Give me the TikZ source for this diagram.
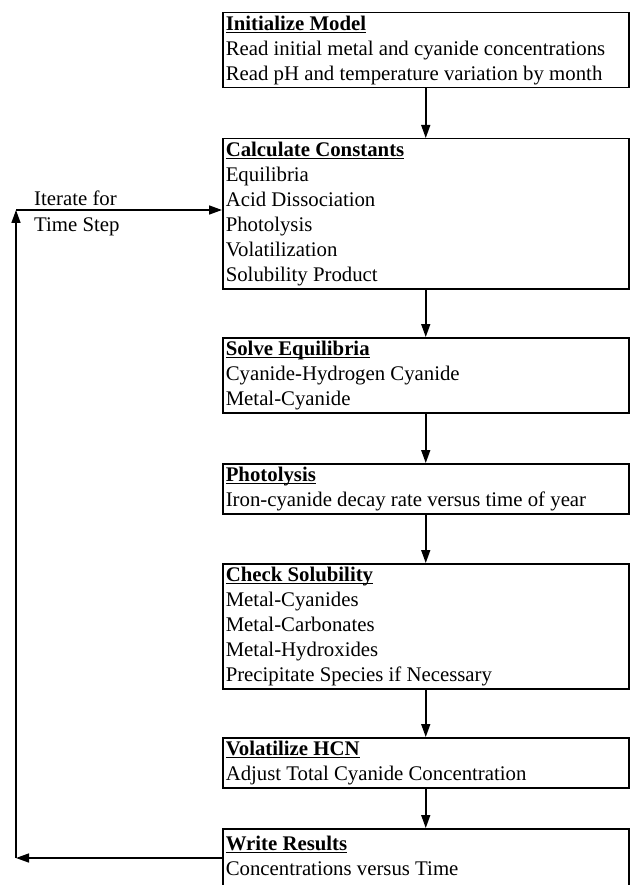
\documentclass[tikz,border=0pt]{standalone}
\usepackage{fontspec}
\setmainfont{Liberation Serif}
\usetikzlibrary{arrows.meta}
\setlength{\parindent}{0pt}
\newlength{\ulw}
\newcommand{\hd}[1]{\settowidth{\ulw}{\textbf{#1}}\textbf{#1}\llap{\rule[-3.2pt]{\ulw}{1.3pt}}}
\newcommand{\tightsp}{\spaceskip=0pt\xspaceskip=0pt\rightskip=0pt plus 1fil\relax}
\tikzset{
  stage/.style={draw, line width=1.5pt, anchor=north west, inner xsep=3pt, inner ysep=0pt,
    text width=400pt, font=\fontsize{20.8}{25}\selectfont},
  lbl/.style={inner sep=0pt, font=\fontsize{20.8}{25}\selectfont},
  arr/.style={line width=1.5pt, -{Triangle[length=13pt,width=9pt]}}
}
\begin{document}
\begin{tikzpicture}[x=1pt,y=-1pt]
\path[fill=white, use as bounding box] (0,0) rectangle (631,885);

\node[stage] (b1) at (222,12) {\tightsp\hd{Initialize Model}\strut\\
Read initial metal and cyanide concentrations\strut\\
Read pH and temperature variation by month\strut};

\node[stage] (b2) at (222,138) {\tightsp\hd{Calculate Constants}\strut\\
Equilibria\strut\\
Acid Dissociation\strut\\
Photolysis\strut\\
Volatilization\strut\\
Solubility Product\strut};

\node[stage] (b3) at (222,337) {\tightsp\hd{Solve Equilibria}\strut\\
Cyanide-Hydrogen Cyanide\strut\\
Metal-Cyanide\strut};

\node[stage] (b4) at (222,463) {\tightsp\hd{Photolysis}\strut\\
Iron-cyanide decay rate versus time of year\strut};

\node[stage] (b5) at (222,563) {\tightsp\hd{Check Solubility}\strut\\
Metal-Cyanides\strut\\
Metal-Carbonates\strut\\
Metal-Hydroxides\strut\\
Precipitate Species if Necessary\strut};

\node[stage] (b6) at (222,737) {\tightsp\hd{Volatilize HCN}\strut\\
Adjust Total Cyanide Concentration\strut};

\node[stage, minimum height=58pt] (b7) at (222,828) {\tightsp\hd{Write Results}\strut\\
Concentrations versus Time\strut};

\draw[arr] (b1.south) -- (b2.north);
\draw[arr] (b2.south) -- (b3.north);
\draw[arr] (b3.south) -- (b4.north);
\draw[arr] (b4.south) -- (b5.north);
\draw[arr] (b5.south) -- (b6.north);
\draw[arr] (b6.south) -- (b7.north);

\coordinate (c1) at (16,858);
\coordinate (c2) at (16,210);
\draw[arr] (b7.west |- c1) -- (c1);
\draw[arr] (c1) -- (c2);
\draw[arr] (c2) -- (b2.west |- c2);

\node[lbl, anchor=base west] (it1) at (34,206) {Iterate for};
\node[lbl, anchor=base west] (it2) at (34,232) {Time Step};
\end{tikzpicture}
\end{document}
